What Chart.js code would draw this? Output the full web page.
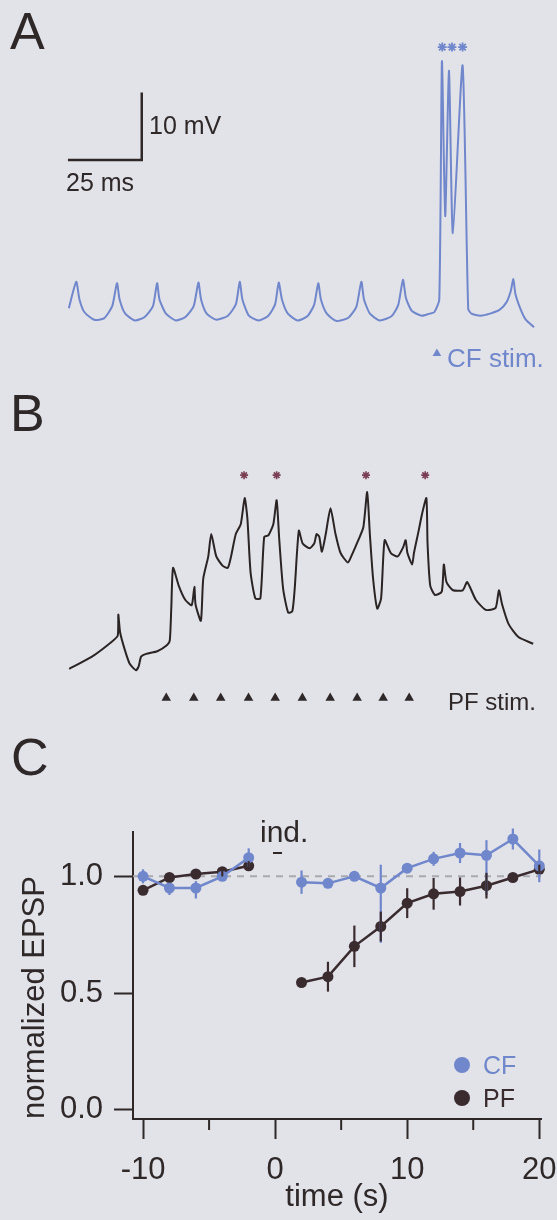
<!DOCTYPE html>
<html>
<head>
<meta charset="utf-8">
<script src="https://cdn.jsdelivr.net/npm/chart.js@4.4.1/dist/chart.umd.min.js"></script>
<style>
  body { margin: 0; width: 557px; height: 1220px; overflow: hidden; position: relative;
         background: #e2e2e9; font-family: 'Liberation Sans', Arial, sans-serif; color: #2e2828; }
  canvas { position: absolute; left: 0; }
  .t { position: absolute; white-space: nowrap; line-height: 1; }
  .dot { position: absolute; width: 16px; height: 16px; border-radius: 50%; }
</style>
</head>
<body>
<canvas id="traceA" width="557" height="375" style="top:0"></canvas>
<canvas id="traceB" width="557" height="345" style="top:375px"></canvas>
<canvas id="summary" width="557" height="500" style="top:720px"></canvas>

<div class="t" style="left:10px;top:5px;font-size:52px">A</div>
<div class="t" style="left:10px;top:387px;font-size:52px">B</div>
<div class="t" style="left:11px;top:731px;font-size:52px">C</div>

<div class="t" style="left:149px;top:113px;font-size:25px">10 mV</div>
<div class="t" style="left:66px;top:170px;font-size:25px">25 ms</div>
<div class="t" style="left:447px;top:345px;font-size:26px;color:#7087cc">CF stim.</div>
<div class="t" style="left:448px;top:690px;font-size:24px">PF stim.</div>

<div class="t" style="left:260px;top:817px;font-size:30px">ind.</div>
<div style="position:absolute;left:273px;top:852px;width:9px;height:2px;background:#2e2828"></div>

<div class="dot" style="left:454px;top:1057px;background:#7087cc"></div>
<div class="t" style="left:483px;top:1053px;font-size:25px;color:#7087cc">CF</div>
<div class="dot" style="left:454px;top:1090px;background:#3a2b2f"></div>
<div class="t" style="left:483px;top:1086px;font-size:25px;color:#3a2b2f">PF</div>

<script>
// panel A: climbing fibre trace (ms, mV above trough)
const traceA_ms = [
  0, 2.5, 3.6, 5.3, 8.6, 11.9, 14.7,
  16.3, 17.2, 19.1, 22.4, 25.7, 28.5,
  29.9, 30.7, 32.9, 36.2, 39.5, 42.3,
  43.9, 44.8, 46.7, 50.0, 53.9, 56.6,
  57.9, 58.8, 61.0, 64.3, 67.6, 69.9,
  71.1, 72.2, 74.2, 77.5, 80.8, 83.1,
  84.5, 85.4, 87.4, 90.7, 94.7, 97.4,
  99.1, 100.0, 102.0, 105.3, 109.3, 111.6,
  113.2, 114.2, 116.2, 119.5, 122.2, 123.8,
  125.5, 126.4, 127.5, 128.8, 130.1, 133.4, 135.3,
  136.4, 139.4, 142.7, 146.0, 148.3, 149.7,
  150.6, 151.3, 153.0, 154.8, 157.6
];
const traceA_mV = [
  1.8, 5.7, 3.1, 1.2, 0.1, 0.3, 2.1,
  5.5, 3.1, 1.0, 0.0, 0.5, 2.1,
  5.5, 3.1, 1.0, 0.0, 0.5, 2.1,
  5.6, 3.1, 1.0, 0.1, 0.7, 2.4,
  5.7, 3.1, 0.7, 0.0, 0.7, 2.4,
  5.6, 3.1, 1.0, 0.0, 0.6, 2.3,
  5.5, 3.1, 1.0, -0.1, 0.4, 2.0,
  5.7, 3.1, 1.0, 0.0, 0.6, 2.3,
  6.0, 3.3, 1.4, 0.7, 1.0, 1.2,
  3.1, 38.3, 15.4, 36.9, 12.9, 37.7, 1.7,
  1.0, 0.7, 1.0, 1.6, 2.7, 4.3,
  6.1, 3.9, 1.7, 0.1, -1.0
];
const spikesA_ms = [126.5, 129.8, 133.4];
const cfStim_ms = [124.7];

// panel B: parallel fibre train
const traceB_ms = [
  0.3, 8.0, 14.7, 16.7, 16.9, 17.5, 19.1, 20.8, 22.9,
  23.8, 24.6, 26.3, 30.1, 33.4, 34.3, 34.8, 35.4,
  37.3, 39.5, 41.7, 42.6, 43.0, 44.8,
  45.6, 47.3, 48.3, 50.0, 52.2, 53.9,
  55.0, 56.6, 58.3, 59.6, 60.5, 61.6, 63.2, 64.9,
  66.2, 67.6, 69.3, 70.4, 71.3, 72.6, 74.3, 75.7, 76.5,
  77.9, 79.2, 81.5, 83.1, 83.9, 84.8, 85.7,
  87.0, 88.6, 90.3, 92.0, 94.5,
  95.8, 98.0, 99.7, 101.0, 101.9, 103.0, 104.4, 105.7,
  106.9, 109.0, 111.3, 113.2, 114.0, 114.6, 116.2,
  116.8, 118.4, 119.5, 121.0, 121.4, 122.3, 123.9,
  126.2, 126.9, 127.8, 130.0, 133.3, 134.8,
  137.7, 141.1, 144.4, 145.5, 146.6, 148.8, 152.1, 157.1
];
const traceB_mV = [
  0.3, 2.1, 4.3, 5.2, 8.3, 5.7, 3.1, 1.0, 0.1,
  0.7, 2.1, 2.5, 2.9, 3.8, 4.5, 9.3, 15.2,
  12.6, 10.5, 9.7, 12.4, 9.8, 7.4,
  13.6, 16.9, 20.2, 16.9, 15.5, 15.2,
  16.9, 20.2, 21.7, 25.5, 22.6, 14.5, 10.7, 10.7,
  19.8, 20.0, 21.7, 25.2, 19.3, 12.1, 8.6, 8.8, 12.1,
  20.7, 18.8, 18.1, 18.8, 20.2, 19.8, 17.6,
  20.2, 24.0, 20.2, 17.4, 16.0,
  17.1, 19.3, 21.2, 26.4, 20.2, 13.6, 9.2, 10.7,
  19.3, 17.4, 16.9, 18.3, 19.3, 17.4, 15.7,
  17.4, 20.7, 23.1, 25.5, 18.8, 12.6, 11.2,
  11.7, 15.7, 13.1, 11.9, 11.9, 13.1,
  10.5, 9.0, 9.3, 11.9, 9.8, 6.9, 5.0, 4.0
];
const spikesB_ms = [59.4, 70.4, 100.6, 120.6];
const pfStim_ms = [33.1, 42.4, 51.5, 60.9, 69.9, 79.1, 88.5, 97.6, 106.4, 115.2];

// panel C: normalized EPSP vs time
const timeC = [-10, -8, -6, -4, -2, 0, 2, 4, 6, 8, 10, 12, 14, 16, 18, 20];
const cfEPSP = [1.00, 0.95, 0.95, 1.00, 1.08, null, 0.975, 0.97, 1.00, 0.95, 1.035, 1.075, 1.10, 1.09, 1.16, 1.045];
const cfErrLo = [0.03, 0.03, 0.045, 0.02, 0.04, null, 0.05, 0.02, 0.02, 0.235, 0.02, 0.03, 0.043, 0.17, 0.045, 0.07];
const cfErrHi = [0.03, 0.02, 0.03, 0.02, 0.04, null, 0.05, 0.02, 0.02, 0.10, 0.02, 0.03, 0.043, 0.065, 0.045, 0.07];
const pfEPSP = [0.94, 0.995, 1.01, 1.02, 1.045, null, 0.545, 0.57, 0.70, 0.785, 0.885, 0.925, 0.935, 0.96, 0.995, 1.03];
const pfErr = [0.02, 0.02, 0.02, 0.02, 0.02, null, 0.02, 0.064, 0.089, 0.064, 0.064, 0.068, 0.06, 0.055, 0.02, 0.02];
const xTicksC = [-10, 0, 10, 20];
const xMinorTicksC = [-5, 5, 15];
const yTicksC = [0, 0.5, 1.0];

const BLUE = '#7087cc';
const DARK = '#2e2828';
const PF_COLOR = '#3a2b2f';

Chart.defaults.font.family = "'Liberation Sans', Arial, sans-serif";
Chart.defaults.animation = false;

function toPoints(xs, ys) {
  return xs.map((x, i) => ({ x: x, y: ys[i] }));
}

function traceOptions(xMin, xMax, yMin, yMax) {
  return {
    responsive: false,
    events: [],
    layout: { padding: 0 },
    plugins: { legend: { display: false }, tooltip: { enabled: false } },
    scales: {
      x: { type: 'linear', display: false, min: xMin, max: xMax },
      y: { type: 'linear', display: false, min: yMin, max: yMax }
    }
  };
}

// A
new Chart(document.getElementById('traceA'), {
  type: 'line',
  data: {
    datasets: [
      { data: toPoints(traceA_ms, traceA_mV), borderColor: BLUE, borderWidth: 2, pointRadius: 0, tension: 0.2, clip: false },
      // 25 ms / 10 mV scale bar
      { data: [{ x: 24.7, y: 33.7 }, { x: 24.7, y: 23.7 }, { x: -0.3, y: 23.7 }], borderColor: DARK, borderWidth: 2.5, pointRadius: 0, clip: false },
      { data: spikesA_ms.map(t => ({ x: t, y: 40.4 })), showLine: false, pointStyle: 'star', pointRadius: 4.5, borderWidth: 1.8, borderColor: BLUE, clip: false },
      { data: cfStim_ms.map(t => ({ x: t, y: -4.9 })), showLine: false, pointStyle: 'triangle', pointRadius: 5, backgroundColor: BLUE, borderColor: BLUE, borderWidth: 0, clip: false }
    ]
  },
  options: traceOptions(-21.19, 163.25, -7.14, 46.43)
});

// B
new Chart(document.getElementById('traceB'), {
  type: 'line',
  data: {
    datasets: [
      { data: toPoints(traceB_ms, traceB_mV), borderColor: '#2a2424', borderWidth: 2, pointRadius: 0, tension: 0.2, clip: false },
      { data: spikesB_ms.map(t => ({ x: t, y: 28.9 })), showLine: false, pointStyle: 'star', pointRadius: 4, borderWidth: 1.6, borderColor: '#7a3f55', clip: false },
      { data: pfStim_ms.map(t => ({ x: t, y: -4.0 })), showLine: false, pointStyle: 'triangle', pointRadius: 5.5, backgroundColor: DARK, borderColor: DARK, borderWidth: 0, clip: false }
    ]
  },
  options: traceOptions(-21.19, 163.25, -6.43, 42.86)
});

// C
const errorBars = {
  id: 'errorBars',
  afterDatasetsDraw(chart) {
    const ctx = chart.ctx;
    const yScale = chart.scales.y;
    chart.data.datasets.forEach((ds, i) => {
      if (!ds.errLo) return;
      const meta = chart.getDatasetMeta(i);
      ctx.save();
      ctx.strokeStyle = ds.borderColor;
      ctx.lineWidth = 2.2;
      meta.data.forEach((pt, j) => {
        const v = ds.data[j].y;
        if (v == null) return;
        ctx.beginPath();
        ctx.moveTo(pt.x, yScale.getPixelForValue(v + ds.errHi[j]));
        ctx.lineTo(pt.x, yScale.getPixelForValue(v - ds.errLo[j]));
        ctx.stroke();
      });
      ctx.restore();
    });
  }
};

const minorTicks = {
  id: 'minorTicks',
  afterDraw(chart) {
    const ctx = chart.ctx;
    const xScale = chart.scales.x;
    const bottom = chart.chartArea.bottom;
    ctx.save();
    ctx.strokeStyle = DARK;
    ctx.lineWidth = 2;
    xMinorTicksC.forEach(v => {
      const px = xScale.getPixelForValue(v);
      ctx.beginPath();
      ctx.moveTo(px, bottom);
      ctx.lineTo(px, bottom + 11);
      ctx.stroke();
    });
    ctx.restore();
  }
};

const xMin = -10.76, xMax = 20.13;

new Chart(document.getElementById('summary'), {
  type: 'line',
  data: {
    datasets: [
      { label: 'CF', data: toPoints(timeC, cfEPSP), errLo: cfErrLo, errHi: cfErrHi,
        borderColor: BLUE, backgroundColor: BLUE, borderWidth: 2.5, pointRadius: 5.5, pointBorderWidth: 0,
        spanGaps: false, clip: false, order: 0 },
      { label: 'PF', data: toPoints(timeC, pfEPSP), errLo: pfErr, errHi: pfErr,
        borderColor: PF_COLOR, backgroundColor: PF_COLOR, borderWidth: 2.5, pointRadius: 5.5, pointBorderWidth: 0,
        spanGaps: false, clip: false, order: 1 },
      { label: 'baseline', data: [{ x: xMin, y: 1 }, { x: xMax, y: 1 }],
        borderColor: '#a9a9b0', borderWidth: 2, borderDash: [7, 6], pointRadius: 0, order: 2 }
    ]
  },
  options: {
    responsive: false,
    events: [],
    layout: { padding: { top: 112, right: 16, left: 0, bottom: 0 } },
    plugins: { legend: { display: false }, tooltip: { enabled: false } },
    scales: {
      x: {
        type: 'linear', min: xMin, max: xMax,
        afterBuildTicks: s => { s.ticks = xTicksC.map(v => ({ value: v })); },
        afterFit: s => { s.height = 101; s.paddingLeft = 0; s.paddingRight = 0; },
        border: { display: true, color: DARK, width: 2 },
        grid: { drawOnChartArea: false, drawTicks: true, tickLength: 20, tickColor: DARK, tickWidth: 2 },
        ticks: { font: { size: 31 }, color: DARK, padding: 13, maxRotation: 0, autoSkip: false },
        title: { display: true, text: 'time (s)', font: { size: 31 }, color: DARK, padding: { top: 0, bottom: 4 } }
      },
      y: {
        type: 'linear', min: -0.04, max: 1.19,
        afterBuildTicks: s => { s.ticks = yTicksC.map(v => ({ value: v })); },
        afterFit: s => { s.width = 133; s.paddingTop = 0; s.paddingBottom = 0; },
        border: { display: true, color: DARK, width: 2 },
        grid: { drawOnChartArea: false, drawTicks: true, tickLength: 19, tickColor: DARK, tickWidth: 2 },
        ticks: { font: { size: 31 }, color: DARK, padding: 11, callback: v => v.toFixed(1) },
        title: { display: true, text: 'normalized EPSP', align: 'start', font: { size: 31 }, color: DARK, padding: { top: 17, bottom: 0 } }
      }
    }
  },
  plugins: [errorBars, minorTicks]
});
</script>
</body>
</html>
